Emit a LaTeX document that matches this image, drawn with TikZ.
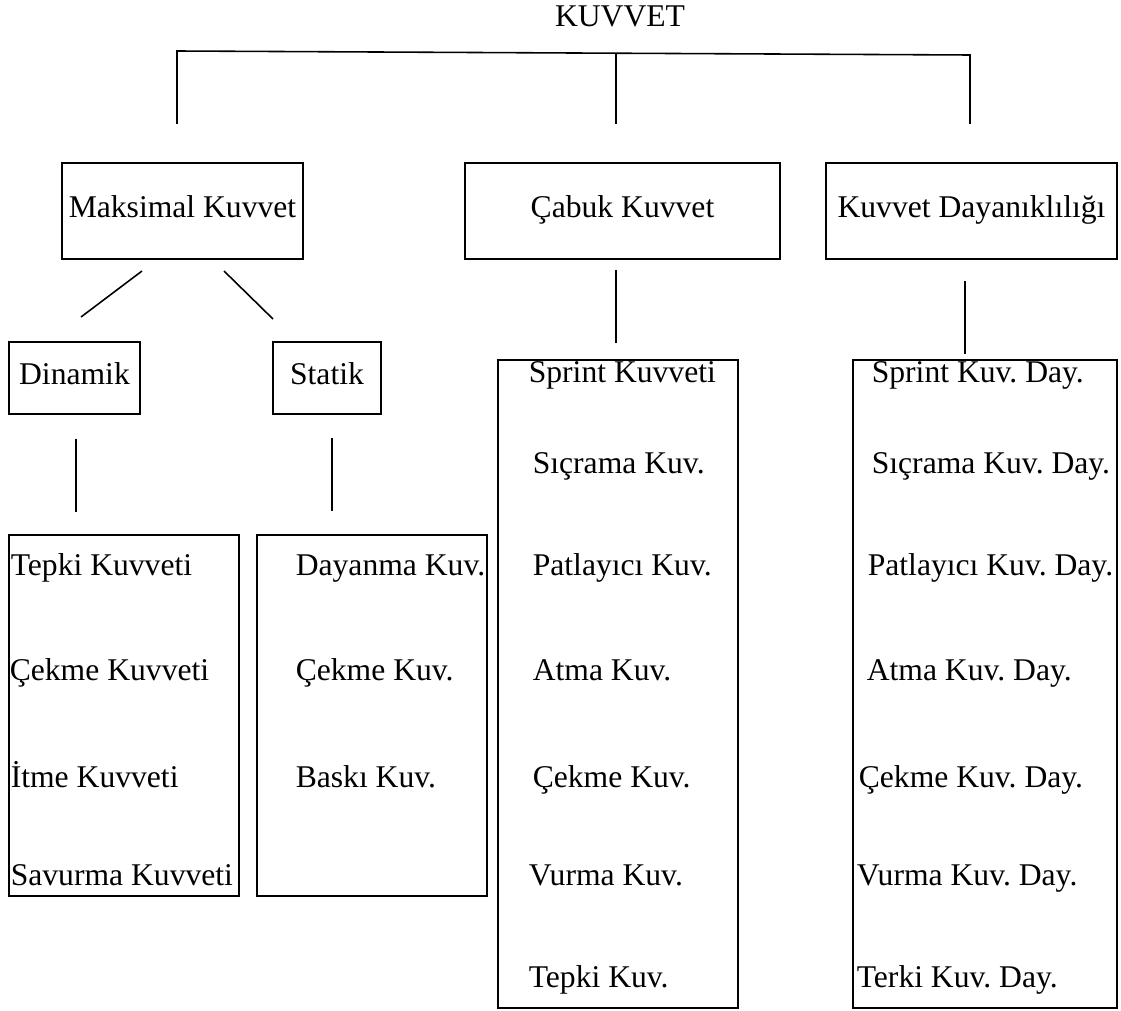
\documentclass[tikz,border=0pt]{standalone}
\usepackage{fontspec}
\setmainfont{Liberation Serif}
\usepackage{tikz}
\frenchspacing

\begin{document}
\begin{tikzpicture}[x=0.02cm,y=-0.02cm,line width=0.9pt]
\tikzset{every node/.style={font=\fontsize{18}{22}\selectfont},
  kutu/.style={draw,inner sep=0pt,text height=12.6pt,text depth=5pt},
  liste/.style={draw,inner sep=0pt},
  yazi/.style={anchor=base west,inner sep=0pt}}
\useasboundingbox (0,0) rectangle (1121,1010);

\node (kuv) at (620,16) {KUVVET};

\node[kutu,minimum width=4.82cm,minimum height=1.92cm] (mk) at (182.5,211) {Maksimal Kuvvet};
\node[kutu,minimum width=6.3cm,minimum height=1.92cm] (ck) at (622.5,211) {Çabuk Kuvvet};
\node[kutu,minimum width=5.82cm,minimum height=1.92cm] (kd) at (971.5,211) {Kuvvet Dayanıklılığı};
\node[kutu,minimum width=2.62cm,minimum height=1.44cm] (din) at (74.5,378) {Dinamik};
\node[kutu,minimum width=2.16cm,minimum height=1.44cm] (sta) at (327,378) {Statik};

\node[liste,minimum width=4.6cm,minimum height=7.22cm] (dinL) at (124,715.5) {};
\node[liste,minimum width=4.6cm,minimum height=7.22cm] (staL) at (372,715.5) {};
\node[liste,minimum width=4.8cm,minimum height=12.96cm] (ckL) at (618,684) {};
\node[liste,minimum width=5.28cm,minimum height=12.96cm] (kdL) at (985,684) {};

% ust cizgi
\coordinate (s1) at (177,51);
\coordinate (s2) at (616,53);
\coordinate (s3) at (970,55);
\coordinate (a1) at (177,124);
\coordinate (a2) at (616,124);
\coordinate (a3) at (970,124);
\draw (a1)--(s1)--(s3)--(a3);
\draw (s2)--(a2);

\coordinate (c1) at (142,271);
\coordinate (c2) at (81,317);
\coordinate (c3) at (224,271);
\coordinate (c4) at (273,319);
\coordinate (c5) at (76,439);
\coordinate (c6) at (76,512);
\coordinate (c7) at (332,438);
\coordinate (c8) at (332,511);
\coordinate (c9) at (616,270);
\coordinate (c10) at (616,343);
\coordinate (c11) at (965,281);
\coordinate (c12) at (965,354);
\draw (c1)--(c2);
\draw (c3)--(c4);
\draw (c5)--(c6);
\draw (c7)--(c8);
\draw (c9)--(c10);
\draw (c11)--(c12);

\node[yazi] (dn1) at (10,575) {Tepki Kuvveti};
\node[yazi] (dn2) at (9,680) {Çekme Kuvveti};
\node[yazi] (dn3) at (10,787) {İtme Kuvveti};
\node[yazi] (dn4) at (10,885) {Savurma Kuvveti};

\node[yazi] (st1) at (295,575) {Dayanma Kuv.};
\node[yazi] (st2) at (295,680) {Çekme Kuv.};
\node[yazi] (st3) at (295,787) {Baskı Kuv.};

\node[yazi] (cb1) at (528,382) {Sprint Kuvveti};
\node[yazi] (cb2) at (532,473) {Sıçrama Kuv.};
\node[yazi] (cb3) at (532,575) {Patlayıcı Kuv.};
\node[yazi] (cb4) at (532,680) {Atma Kuv.};
\node[yazi] (cb5) at (532,787) {Çekme Kuv.};
\node[yazi] (cb6) at (528,885) {Vurma Kuv.};
\node[yazi] (cb7) at (528,987) {Tepki Kuv.};

\node[yazi] (kd1) at (871,382) {Sprint Kuv. Day.};
\node[yazi] (kd2) at (871,473) {Sıçrama Kuv. Day.};
\node[yazi] (kd3) at (867,575) {Patlayıcı Kuv. Day.};
\node[yazi] (kd4) at (866,680) {Atma Kuv. Day.};
\node[yazi] (kd5) at (858,787) {Çekme Kuv. Day.};
\node[yazi] (kd6) at (856,885) {Vurma Kuv. Day.};
\node[yazi] (kd7) at (856,987) {Terki Kuv. Day.};
\end{tikzpicture}
\end{document}
